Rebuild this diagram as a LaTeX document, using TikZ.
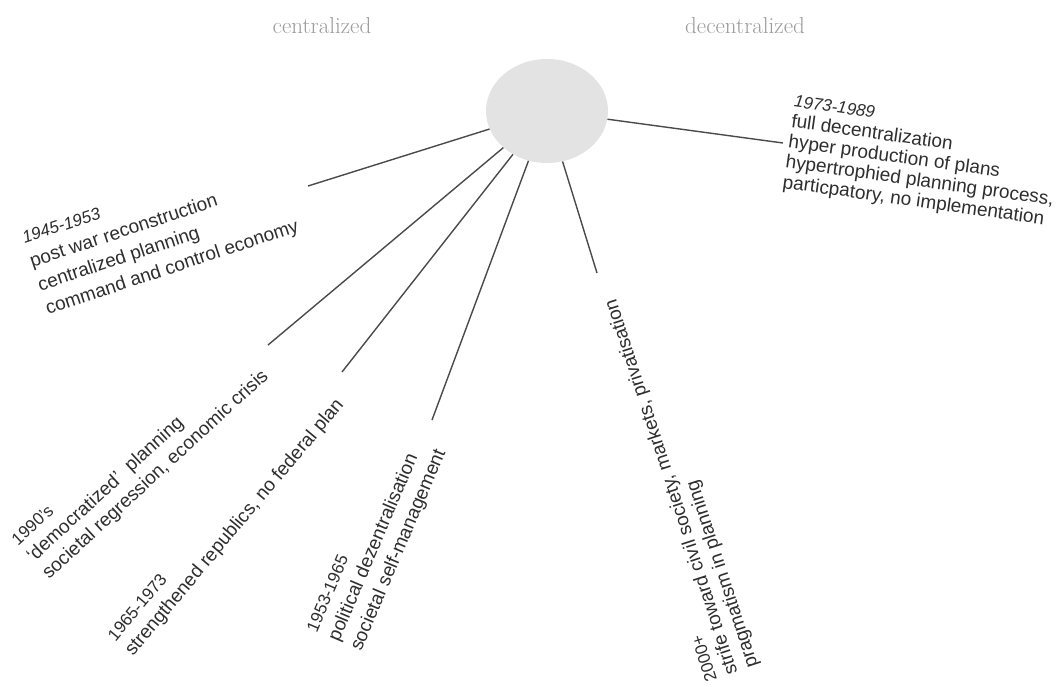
\documentclass[tikz,border=0pt]{standalone}
\usepackage{fontspec}
\setsansfont{Liberation Sans}
\usetikzlibrary{shapes.geometric}
\definecolor{txtc}{HTML}{2E2E2E}
\definecolor{linec}{HTML}{4A4A4A}
\definecolor{ellc}{HTML}{E3E3E3}
\definecolor{headc}{HTML}{9B9B9B}
\newcommand{\yrs}[1]{{\fontsize{17}{20}\selectfont #1}}
\begin{document}
\begin{tikzpicture}[x=1pt,y=-1pt,
  lbl/.style={text=txtc, align=left, inner sep=0pt, anchor=base west,
    font=\sffamily\fontsize{19}{23}\selectfont},
  lblA/.style={lbl, font=\sffamily\fontsize{19}{25}\selectfont},
  lblB/.style={lbl, font=\sffamily\fontsize{19}{20.5}\selectfont},
  lblE/.style={lbl, font=\sffamily\fontsize{19}{24}\selectfont},
  lblF/.style={lbl, font=\sffamily\fontsize{19}{21.5}\selectfont},
  conn/.style={draw=linec, line width=1.4pt},
  head/.style={text=headc, inner sep=0pt, anchor=base,
    font=\rmfamily\fontsize{23}{26}\selectfont},
  hubstyle/.style={ellipse, fill=ellc, minimum width=122pt, minimum height=104pt, inner sep=0pt}]
\useasboundingbox (0,0) rectangle (1062,686);
\fill[white] (0,0) rectangle (1062,686);

% headers
\node[head] (hc) at (322,33) {centralized};
\node[head] (hd) at (745,33) {decentralized};

% hub
\node[hubstyle] (hub) at (547,111) {};

% connector ends
\coordinate (e1) at (308,186);
\coordinate (e2) at (268,345);
\coordinate (e3) at (342,372);
\coordinate (e4) at (432,420);
\coordinate (e5) at (597,273);
\coordinate (e6) at (783,143);

\draw[conn] (hub) -- (e1);
\draw[conn] (hub) -- (e2);
\draw[conn] (hub) -- (e3);
\draw[conn] (hub) -- (e4);
\draw[conn] (hub) -- (e5);
\draw[conn] (hub) -- (e6);

% labels (anchor = baseline start of the last line)
\node[lblA, rotate=18.4] (tA) at (48,315)
  {\yrs{\textit{1945-1953}}\\post war reconstruction\\centralized planning\\command and control economy};
\node[lblB, rotate=-8] (tB) at (782,188)
  {\yrs{\textit{1973-1989}}\\full decentralization\\hyper production of plans\\hypertrophied planning process,\\particpatory, no implementation};
\node[lbl, rotate=42.6] (tC) at (49,580)
  {\yrs{1990's}\\‘democratized’\ \ planning\\societal regression, economic crisis};
\node[lbl, rotate=50] (tD) at (133,657)
  {\yrs{1965-1973}\\strengthened republics, no federal plan};
\node[lblE, rotate=67] (tE) at (361,652)
  {\yrs{1953-1965}\\political dezentralisation\\societal self-management};
\node[lblF, rotate=108] (tF) at (758,666)
  {\yrs{2000+}\\strife toward civil society, markets, privatisation\\pragmatism in planning};
\end{tikzpicture}
\end{document}
